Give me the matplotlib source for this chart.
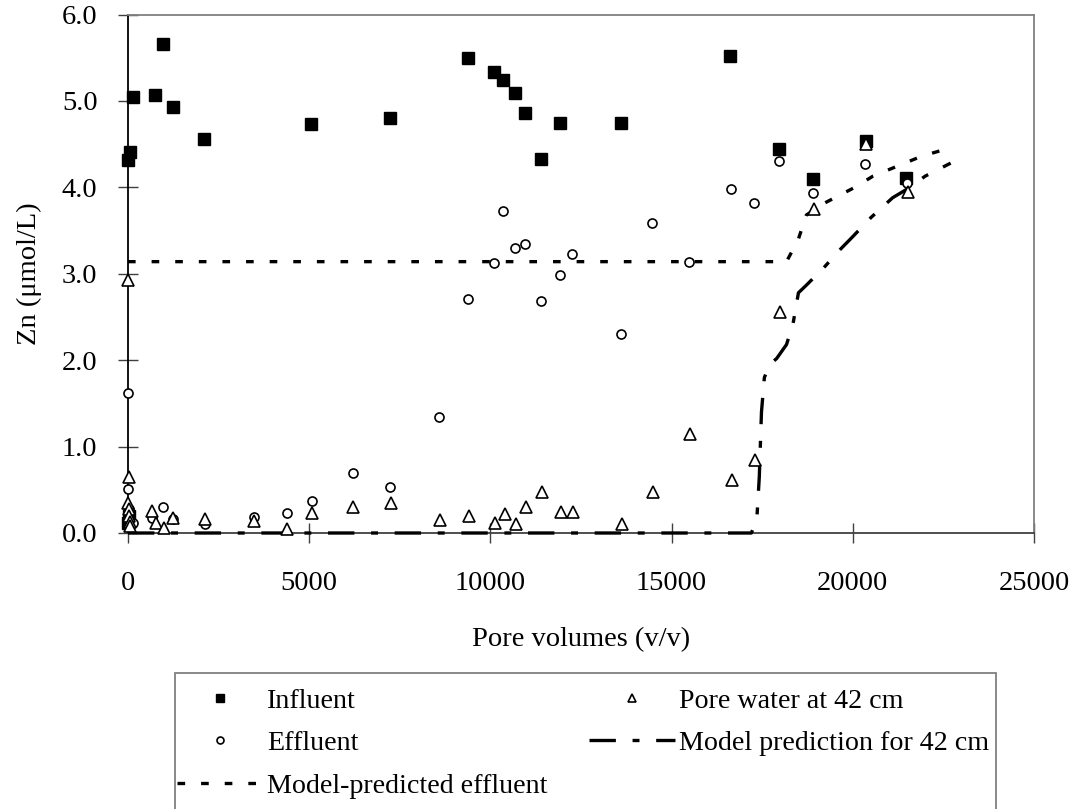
import matplotlib
matplotlib.use("Agg")
import matplotlib.pyplot as plt
from matplotlib.lines import Line2D
from matplotlib.patches import Rectangle
from matplotlib.ticker import FormatStrFormatter, MultipleLocator

plt.rcParams['font.family'] = ['Liberation Serif', 'DejaVu Serif']
plt.rcParams['lines.scale_dashes'] = False

# ---- data ----
influent_x = [0, 55, 147, 745, 957, 1233, 2097, 5057, 7228, 9379, 10088, 10354,
              10676, 10952, 11384, 11917, 13600, 16607, 17967, 18905, 20359, 21481,
              10, 30]
influent_y = [4.32, 4.41, 5.05, 5.07, 5.66, 4.93, 4.56, 4.73, 4.80, 5.50, 5.33, 5.24,
              5.09, 4.86, 4.33, 4.75, 4.75, 5.52, 4.44, 4.10, 4.54, 4.11,
              0.12, 0.20]

effluent_x = [0, 0, 30, 147, 653, 957, 1250, 2124, 3485, 4377, 5067, 6216, 7228,
              8570, 9379, 10088, 10354, 10676, 10952, 11384, 11917, 12239, 13600,
              14462, 15484, 16626, 17269, 17967, 18888, 20350, 21500]
effluent_y = [1.62, 0.51, 0.28, 0.11, 0.17, 0.30, 0.16, 0.10, 0.19, 0.235, 0.37, 0.69, 0.53,
              1.34, 2.71, 3.12, 3.73, 3.30, 3.34, 2.68, 2.98, 3.23, 2.30,
              3.59, 3.14, 3.98, 3.82, 4.31, 3.93, 4.27, 4.05]

pore_x = [0, 20, 0, 15, 30, 45, 60, 653, 772, 993, 1250, 2124, 3485, 4377, 5067,
          6216, 7255, 8607, 9398, 10115, 10391, 10703, 10970, 11421, 11945, 12285,
          13627, 14492, 15503, 16653, 17297, 17986, 18933, 20359, 21517]
pore_y = [2.93, 0.645, 0.35, 0.28, 0.20, 0.13, 0.08, 0.25, 0.11, 0.06, 0.17, 0.16, 0.14, 0.05, 0.23,
          0.30, 0.35, 0.15, 0.20, 0.12, 0.22, 0.10, 0.30, 0.48, 0.24, 0.24,
          0.10, 0.48, 1.15, 0.61, 0.85, 2.56, 3.75, 4.50, 3.95]

model_eff_x = [0, 18170, 18490, 18720, 19230, 20010, 20560, 21200, 21900, 22550]
model_eff_y = [3.14, 3.14, 3.39, 3.68, 3.82, 3.99, 4.13, 4.24, 4.36, 4.44]

model_42_x = [0, 17200, 17350, 17420, 17480, 17560, 17710, 17900, 18170, 18350, 18500,
              18700, 19200, 19650, 20000, 20500, 21100, 21500, 22000, 22700]
model_42_y = [0, 0, 0.15, 0.65, 1.40, 1.80, 1.95, 2.02, 2.18, 2.42, 2.78,
              2.86, 3.07, 3.28, 3.43, 3.65, 3.88, 3.98, 4.13, 4.28]

labels = ["Influent", "Effluent", "Model-predicted effluent",
          "Pore water at 42 cm", "Model prediction for 42 cm"]

# ---- figure ----
W, H = 1073, 809
fig = plt.figure(figsize=(W / 100, H / 100), dpi=100)
ax = fig.add_axes([128 / W, 1 - 533 / H, (1034 - 128) / W, (533 - 14.5) / H])

FS = 20.5
LFS = 20.2
eff_dash = (0, (5.5, 11.5))
m42_dash = (0, (19, 12, 5, 12))

ax.plot(model_eff_x, model_eff_y, color='black', lw=2.4, linestyle=eff_dash,
        zorder=3, clip_on=False)
ax.plot(model_42_x, model_42_y, color='black', lw=2.4, linestyle=m42_dash,
        zorder=3, clip_on=False)
ax.plot(influent_x, influent_y, ls='none', marker='s', ms=8, color='black',
        zorder=4, clip_on=False)
ax.plot(effluent_x, effluent_y, ls='none', marker='o', ms=6.5, mfc='white', mec='black',
        mew=1.2, zorder=5, clip_on=False)
ax.plot(pore_x, pore_y, ls='none', marker='^', ms=8.5, mfc='white', mec='black',
        mew=1.2, zorder=5, clip_on=False)

ax.set_xlim(0, 25000)
ax.set_ylim(0, 6)
ax.xaxis.set_major_locator(MultipleLocator(5000))
ax.yaxis.set_major_locator(MultipleLocator(1))
ax.yaxis.set_major_formatter(FormatStrFormatter('%.1f'))
ax.tick_params(axis='both', direction='inout', length=14, width=1.0, labelsize=FS,
               color='#404040')
ax.tick_params(axis='x', pad=20)
ax.tick_params(axis='y', pad=15)

ax.spines['left'].set_color('black')
ax.spines['bottom'].set_color('#404040')
ax.spines['top'].set_color('#808080')
ax.spines['right'].set_color('#808080')
for s in ax.spines.values():
    s.set_linewidth(1.3)

ax.set_xlabel("Pore volumes (v/v)", fontsize=FS, labelpad=23)
ax.set_ylabel("Zn (\u03bcmol/L)", fontsize=FS, labelpad=14)

# ---- legend ----
handles = [
    Line2D([], [], ls='none', marker='s', ms=6, color='black'),
    Line2D([], [], ls='none', marker='o', ms=5, mfc='white', mec='black', mew=1.2),
    Line2D([], [], color='black', lw=2.4, linestyle=eff_dash),
    Line2D([], [], ls='none', marker='^', ms=6, mfc='white', mec='black', mew=1.2),
    Line2D([], [], color='black', lw=2.4, linestyle=m42_dash),
]
leg = fig.legend(handles, labels, loc='upper left', ncol=2,
                 bbox_to_anchor=(177 / W, 1 - 688 / H), bbox_transform=fig.transFigure,
                 frameon=False, fontsize=LFS, borderpad=0, borderaxespad=0,
                 handlelength=3.05, handletextpad=0.15, columnspacing=1.5,
                 labelspacing=0.6)
fig.patches.append(Rectangle((175 / W, 1 - 820 / H), (996 - 175) / W, (820 - 672.7) / H,
                             transform=fig.transFigure, fill=False,
                             edgecolor='#808080', lw=1.3, zorder=0))

fig.savefig("out.png", dpi=100)
